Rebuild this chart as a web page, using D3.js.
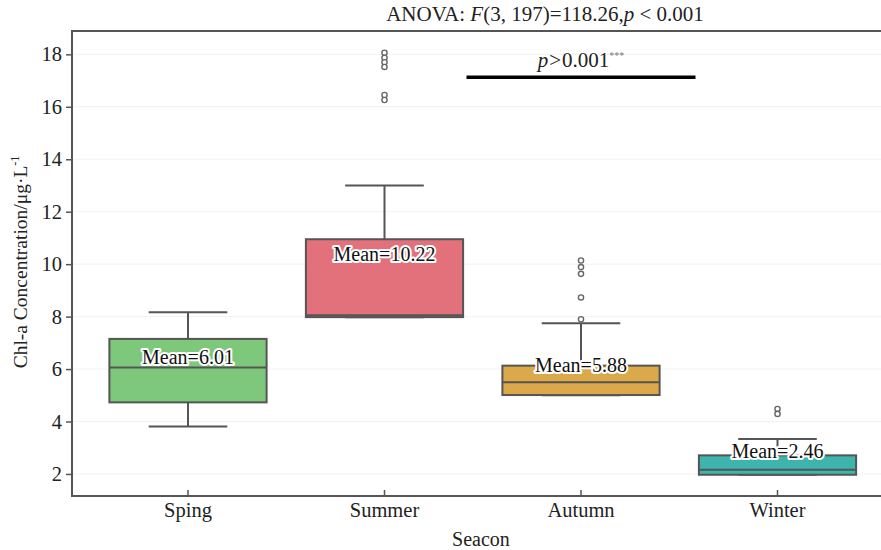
<!DOCTYPE html>
<html>
<head>
<meta charset="utf-8">
<script src="https://cdn.jsdelivr.net/npm/d3@7/dist/d3.min.js"></script>
<style>
  html, body { margin: 0; padding: 0; background: #fff; }
  svg { display: block; font-family: "Liberation Serif", "Times New Roman", serif; }
</style>
</head>
<body>
<svg id="chart" width="881" height="550"></svg>
<script>
// Seasonal Chl-a concentration summary (µg·L⁻¹)
const seasons = ["Sping", "Summer", "Autumn", "Winter"];
const whiskerLow  = [3.81, 7.98, 5.00, 1.97];
const q1          = [4.73, 7.98, 5.01, 1.97];
const medians     = [6.06, 8.05, 5.50, 2.16];
const q3          = [7.15, 10.95, 6.13, 2.71];
const whiskerHigh = [8.17, 13.00, 7.75, 3.33];
const means       = [6.01, 10.22, 5.88, 2.46];
const outliers = [
  [],
  [18.06, 17.87, 17.70, 17.52, 16.45, 16.26],
  [10.14, 9.89, 9.63, 8.73, 7.90],
  [4.48, 4.29]
];
const boxColors = ["#7ec87b", "#e2717b", "#dba94a", "#3db5ad"];
const yTicks = [2, 4, 6, 8, 10, 12, 14, 16, 18];
const sigLevel = 17.13;      // height of the significance bar
const sigSeason = "Autumn";  // season the bar is centred on

const svg = d3.select("#chart");
const frame = { left: 72, top: 31, right: 890, bottom: 496 };
const serif = "Liberation Serif";

const x = d3.scaleBand().domain(seasons).range([89.75, 875.75]).padding(0);
const y = d3.scaleLinear().domain([1.16, 18.89]).range([frame.bottom, frame.top]);
const boxW = x.bandwidth() * 0.8;
const capW = boxW * 0.5;
const cx = s => x(s) + x.bandwidth() / 2;

// faint horizontal grid
svg.append("g").selectAll("line").data(yTicks).join("line")
  .attr("x1", frame.left).attr("x2", frame.right)
  .attr("y1", d => y(d)).attr("y2", d => y(d))
  .attr("stroke", "#f2f2f2").attr("stroke-width", 1);

// frame
svg.append("rect")
  .attr("x", frame.left).attr("y", frame.top)
  .attr("width", frame.right - frame.left).attr("height", frame.bottom - frame.top)
  .attr("fill", "none").attr("stroke", "#555").attr("stroke-width", 2);

// y axis
const yAxis = svg.append("g")
  .attr("transform", `translate(${frame.left},0)`)
  .call(d3.axisLeft(y).tickValues(yTicks).tickSize(6).tickPadding(4));
yAxis.attr("font-family", serif);
yAxis.select(".domain").remove();
yAxis.selectAll(".tick line").attr("stroke", "#555").attr("stroke-width", 1.5);
yAxis.selectAll(".tick text")
  .attr("font-family", serif).attr("font-size", 20.5).attr("fill", "#222");

// x axis (ticks point inward)
const xAxis = svg.append("g")
  .attr("transform", `translate(0,${frame.bottom})`)
  .call(d3.axisBottom(x).tickSize(-6).tickPadding(0));
xAxis.attr("font-family", serif);
xAxis.select(".domain").remove();
xAxis.selectAll(".tick line").attr("stroke", "#555").attr("stroke-width", 1.5);
xAxis.selectAll(".tick text")
  .attr("font-family", serif).attr("font-size", 20.5).attr("fill", "#222")
  .attr("dy", null).attr("y", 21);

// axis titles
svg.append("text")
  .attr("transform", "translate(27,262) rotate(-90)")
  .attr("text-anchor", "middle").attr("font-size", 19.5).attr("fill", "#222")
  .text("Chl-a Concentration/μg·L")
  .append("tspan").attr("dy", -8).attr("font-size", 12).text("-1");

svg.append("text")
  .attr("x", 481).attr("y", 546).attr("text-anchor", "middle")
  .attr("font-size", 20).attr("fill", "#222").text("Seacon");

// title
const title = svg.append("text")
  .attr("x", 545).attr("y", 21).attr("text-anchor", "middle")
  .attr("font-size", 21).attr("fill", "#222");
title.append("tspan").text("ANOVA: ");
title.append("tspan").attr("font-style", "italic").text("F");
title.append("tspan").text("(3, 197)=118.26,");
title.append("tspan").attr("font-style", "italic").text("p");
title.append("tspan").text(" < 0.001");

// boxes
const stroke = "#555";
const g = svg.append("g");
seasons.forEach((s, i) => {
  const c = cx(s);
  const bg = g.append("g");
  // whiskers
  bg.append("line").attr("x1", c).attr("x2", c)
    .attr("y1", y(q3[i])).attr("y2", y(whiskerHigh[i]))
    .attr("stroke", stroke).attr("stroke-width", 2);
  bg.append("line").attr("x1", c).attr("x2", c)
    .attr("y1", y(q1[i])).attr("y2", y(whiskerLow[i]))
    .attr("stroke", stroke).attr("stroke-width", 2);
  bg.append("line").attr("x1", c - capW / 2).attr("x2", c + capW / 2)
    .attr("y1", y(whiskerHigh[i])).attr("y2", y(whiskerHigh[i]))
    .attr("stroke", stroke).attr("stroke-width", 2);
  bg.append("line").attr("x1", c - capW / 2).attr("x2", c + capW / 2)
    .attr("y1", y(whiskerLow[i])).attr("y2", y(whiskerLow[i]))
    .attr("stroke", stroke).attr("stroke-width", 2);
  // box
  bg.append("rect")
    .attr("x", c - boxW / 2).attr("y", y(q3[i]))
    .attr("width", boxW).attr("height", y(q1[i]) - y(q3[i]))
    .attr("fill", boxColors[i]).attr("stroke", stroke).attr("stroke-width", 2);
  // median
  bg.append("line").attr("x1", c - boxW / 2).attr("x2", c + boxW / 2)
    .attr("y1", y(medians[i])).attr("y2", y(medians[i]))
    .attr("stroke", stroke).attr("stroke-width", 2);
  // outliers
  bg.selectAll("circle").data(outliers[i]).join("circle")
    .attr("cx", c).attr("cy", d => y(d)).attr("r", 2.6)
    .attr("fill", "#fff").attr("stroke", "#666").attr("stroke-width", 1.4);
});

// mean labels with a white halo
const labelLift = [12, 4.5, 7.5, 10.5];
svg.append("g").selectAll("text").data(seasons).join("text")
  .attr("x", s => cx(s))
  .attr("y", (s, i) => y(means[i]) - labelLift[i])
  .attr("dominant-baseline", "central")
  .attr("text-anchor", "middle")
  .attr("font-size", 20).attr("fill", "#111")
  .attr("stroke", "#fff").attr("stroke-width", 4).attr("stroke-linejoin", "round")
  .attr("paint-order", "stroke")
  .text((s, i) => "Mean=" + means[i].toFixed(2));

// significance bar
const sc = cx(sigSeason);
svg.append("line")
  .attr("x1", sc - 114.5).attr("x2", sc + 114.5)
  .attr("y1", y(sigLevel)).attr("y2", y(sigLevel))
  .attr("stroke", "#000").attr("stroke-width", 3.5);
const sig = svg.append("text")
  .attr("x", sc).attr("y", y(sigLevel) - 10).attr("text-anchor", "middle")
  .attr("font-size", 21).attr("fill", "#222");
sig.append("tspan").attr("font-style", "italic").text("p");
sig.append("tspan").attr("dx", 1).text(">");
sig.append("tspan").attr("dx", 1).text("0.001");
sig.append("tspan").attr("dy", -8).attr("font-size", 10).attr("fill", "#777").text("***");
</script>
</body>
</html>
